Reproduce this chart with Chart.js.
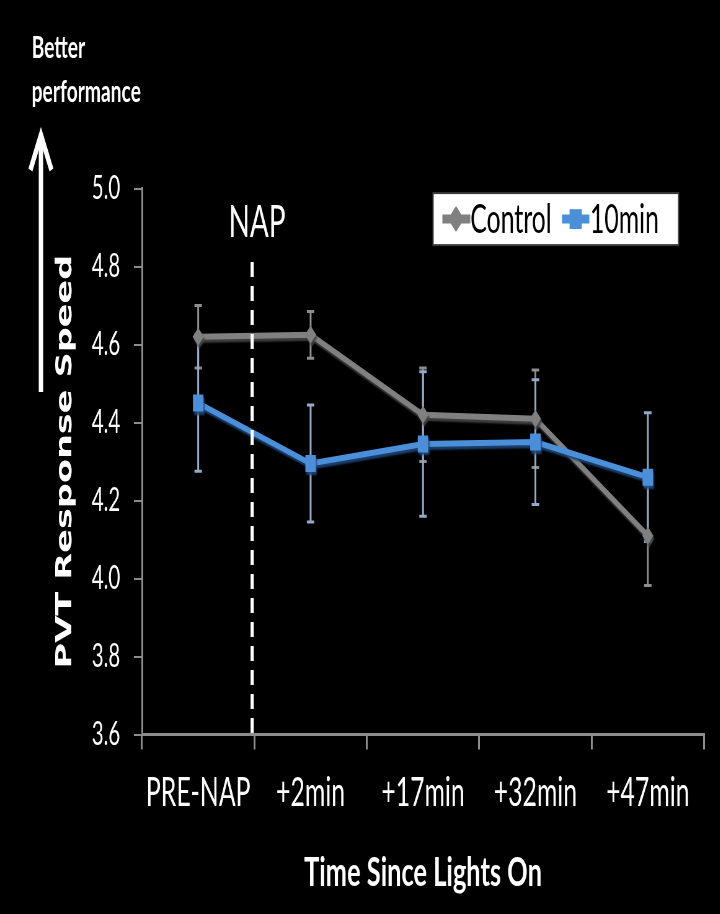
<!DOCTYPE html>
<html><head><meta charset="utf-8">
<script src="https://cdn.jsdelivr.net/npm/chart.js@4.4.1/dist/chart.umd.min.js"></script>
<style>
html,body{margin:0;padding:0;background:#000;overflow:hidden;width:720px;height:914px;}
#wrap{position:absolute;left:0;top:0;width:1161px;height:914px;transform:scaleX(0.62);transform-origin:0 0;}
canvas{display:block;}
</style></head><body>
<div id="wrap"><canvas id="c" width="1161" height="914"></canvas></div>
<script>
const categories = ['PRE-NAP', '+2min', '+17min', '+32min', '+47min'];
const seriesLabels = ['Control', '10min'];
const controlValues = [4.62, 4.625, 4.42, 4.41, 4.11];
const controlErrors = [0.08, 0.06, 0.12, 0.125, 0.128];
const tenMinValues = [4.45, 4.295, 4.345, 4.35, 4.26];
const tenMinErrors = [0.175, 0.15, 0.185, 0.16, 0.165];
const yTicks = [3.6, 3.8, 4.0, 4.2, 4.4, 4.6, 4.8, 5.0];
const yTitle = 'PVT Response Speed';
const xTitle = 'Time Since Lights On';
const napLabel = 'NAP';
const napPosition = 0.48;
const noteLines = ['Better', 'performance'];

const GRAY = '#808080';
const BLUE = '#4b8fd9';
const errorColors = ['#8d8d8d', '#93aac8'];
const errorSets = [controlErrors, tenMinErrors];
const shadowColors = ['rgba(70,70,70,0.9)', 'rgba(30,70,120,0.9)'];

function diamond(ctx, x, y, r) {
  ctx.beginPath();
  ctx.moveTo(x, y - r); ctx.lineTo(x + r, y); ctx.lineTo(x, y + r); ctx.lineTo(x - r, y);
  ctx.closePath(); ctx.fill();
}
function square(ctx, x, y, r) {
  const s = r * Math.SQRT1_2;
  ctx.fillRect(x - s, y - s, 2 * s, 2 * s);
}

const decor = {
  id: 'decor',
  beforeDatasetsDraw(chart) {
    const ctx = chart.ctx, ys = chart.scales.y;
    chart.data.datasets.forEach((ds, i) => {
      const meta = chart.getDatasetMeta(i);
      const errs = errorSets[i];
      ctx.save();
      ctx.strokeStyle = errorColors[i];
      ctx.lineWidth = 3;
      meta.data.forEach((pt, j) => {
        const v = ds.data[j], e = errs[j];
        const yt = ys.getPixelForValue(v + e), yb = ys.getPixelForValue(v - e);
        ctx.beginPath();
        ctx.moveTo(pt.x, yt); ctx.lineTo(pt.x, yb);
        ctx.moveTo(pt.x - 6, yt); ctx.lineTo(pt.x + 6, yt);
        ctx.moveTo(pt.x - 6, yb); ctx.lineTo(pt.x + 6, yb);
        ctx.stroke();
      });
      ctx.restore();
    });
  },
  beforeDatasetDraw(chart, args) {
    const ctx = chart.ctx;
    ctx.save();
    ctx.shadowColor = shadowColors[args.index];
    ctx.shadowOffsetX = 2;
    ctx.shadowOffsetY = 3;
    ctx.shadowBlur = 2;
  },
  afterDatasetDraw(chart) {
    chart.ctx.restore();
  },
  afterDatasetsDraw(chart) {
    const ctx = chart.ctx, a = chart.chartArea, xs = chart.scales.x;
    const nx = xs.getPixelForValue(napPosition);
    ctx.save();
    ctx.strokeStyle = '#ffffff';
    ctx.lineWidth = 5;
    ctx.setLineDash([15, 9]);
    ctx.beginPath();
    ctx.moveTo(nx, 262); ctx.lineTo(nx, a.bottom);
    ctx.stroke();
    ctx.restore();
    ctx.save();
    ctx.fillStyle = '#ffffff';
    ctx.font = '45px Lato';
    ctx.textAlign = 'center';
    ctx.textBaseline = 'alphabetic';
    ctx.fillText(napLabel, nx + 8, 237);
    ctx.restore();
  },
  afterDraw(chart) {
    const ctx = chart.ctx, a = chart.chartArea;
    const bw = 396, bh = 52;
    const bx = a.right - 41 - bw, by = a.top + 4.5;
    ctx.save();
    ctx.fillStyle = '#ffffff';
    ctx.fillRect(bx, by, bw, bh);
    ctx.strokeStyle = '#3a3a3a';
    ctx.lineWidth = 2;
    ctx.strokeRect(bx, by, bw, bh);
    const cy = by + 26;
    const items = [
      {x0: bx + 15, x1: bx + 60, mx: bx + 37, tx: bx + 60, color: GRAY, shape: 'diamond'},
      {x0: bx + 208, x1: bx + 252, mx: bx + 230, tx: bx + 253, color: BLUE, shape: 'square'}
    ];
    items.forEach((it, i) => {
      ctx.strokeStyle = it.color; ctx.fillStyle = it.color;
      ctx.lineWidth = 9;
      ctx.beginPath(); ctx.moveTo(it.x0, cy); ctx.lineTo(it.x1, cy); ctx.stroke();
      if (it.shape === 'diamond') diamond(ctx, it.mx, cy, 13); else square(ctx, it.mx, cy, 14);
      ctx.fillStyle = '#000000';
      ctx.font = '40px Lato';
      ctx.textAlign = 'left';
      ctx.textBaseline = 'middle';
      ctx.fillText(chart.data.datasets[i].label, it.tx, cy + 1);
    });
    ctx.restore();
    ctx.save();
    ctx.fillStyle = '#ffffff';
    ctx.font = 'bold 31px Lato';
    ctx.textAlign = 'left';
    ctx.textBaseline = 'alphabetic';
    ctx.fillText(noteLines[0], 51, 58);
    ctx.fillText(noteLines[1], 51, 102);
    ctx.strokeStyle = '#ffffff';
    ctx.lineWidth = 7;
    ctx.lineCap = 'butt';
    ctx.beginPath();
    ctx.moveTo(66, 392); ctx.lineTo(66, 138);
    ctx.stroke();
    ctx.lineJoin = 'miter';
    ctx.beginPath();
    ctx.moveTo(49, 170); ctx.lineTo(66, 135); ctx.lineTo(83, 170);
    ctx.stroke();
    ctx.restore();
  }
};

function build() {
  new Chart(document.getElementById('c'), {
    type: 'line',
    data: {
      labels: categories,
      datasets: [
        {
          label: seriesLabels[0], data: controlValues, order: 1,
          borderColor: GRAY, backgroundColor: GRAY, borderWidth: 6,
          pointStyle: 'rectRot', pointRadius: 9, pointBackgroundColor: GRAY, pointBorderWidth: 0,
          tension: 0
        },
        {
          label: seriesLabels[1], data: tenMinValues, order: 0,
          borderColor: BLUE, backgroundColor: BLUE, borderWidth: 6,
          pointStyle: 'rect', pointRadius: 12, pointBackgroundColor: BLUE, pointBorderWidth: 0,
          tension: 0
        }
      ]
    },
    options: {
      responsive: false,
      animation: false,
      devicePixelRatio: 1,
      layout: {padding: {top: 188.6, right: 25.5, bottom: 0, left: 0}},
      plugins: {legend: {display: false}, tooltip: {enabled: false}},
      scales: {
        x: {
          offset: true,
          grid: {offset: true, drawOnChartArea: false, drawTicks: true, tickLength: 15, color: '#8c8c8c', lineWidth: 3},
          border: {display: true, color: '#8c8c8c', width: 3},
          ticks: {color: '#ffffff', font: {family: 'Lato', size: 40}, padding: 20, maxRotation: 0, autoSkip: false},
          title: {display: true, text: xTitle, color: '#ffffff', font: {family: 'Lato', size: 41, weight: 'bold'}, padding: {top: 17, bottom: 17}},
          afterFit: s => { s.height = 179.5; }
        },
        y: {
          min: 3.6, max: 5.0,
          afterBuildTicks: s => { s.ticks = yTicks.map(v => ({value: v})); },
          grid: {drawOnChartArea: false, drawTicks: true, tickLength: 13, color: '#8c8c8c', lineWidth: 2},
          border: {display: true, color: '#8c8c8c', width: 3},
          ticks: {color: '#ffffff', font: {family: 'Lato', size: 33}, padding: 22, callback: v => Number(v).toFixed(1)},
          title: {display: true, text: yTitle, color: '#ffffff', font: {family: 'DejaVu Sans', size: 35, weight: 'bold'}, padding: {top: 85, bottom: 85}},
          afterFit: s => { s.width = 229; }
        }
      }
    },
    plugins: [decor]
  });
}
const fontLoads = ['30px Lato', 'bold 30px Lato', 'bold 35px "DejaVu Sans"'].map(f => document.fonts.load(f).catch(() => null));
Promise.all(fontLoads).then(build, build);
</script>
</body></html>
